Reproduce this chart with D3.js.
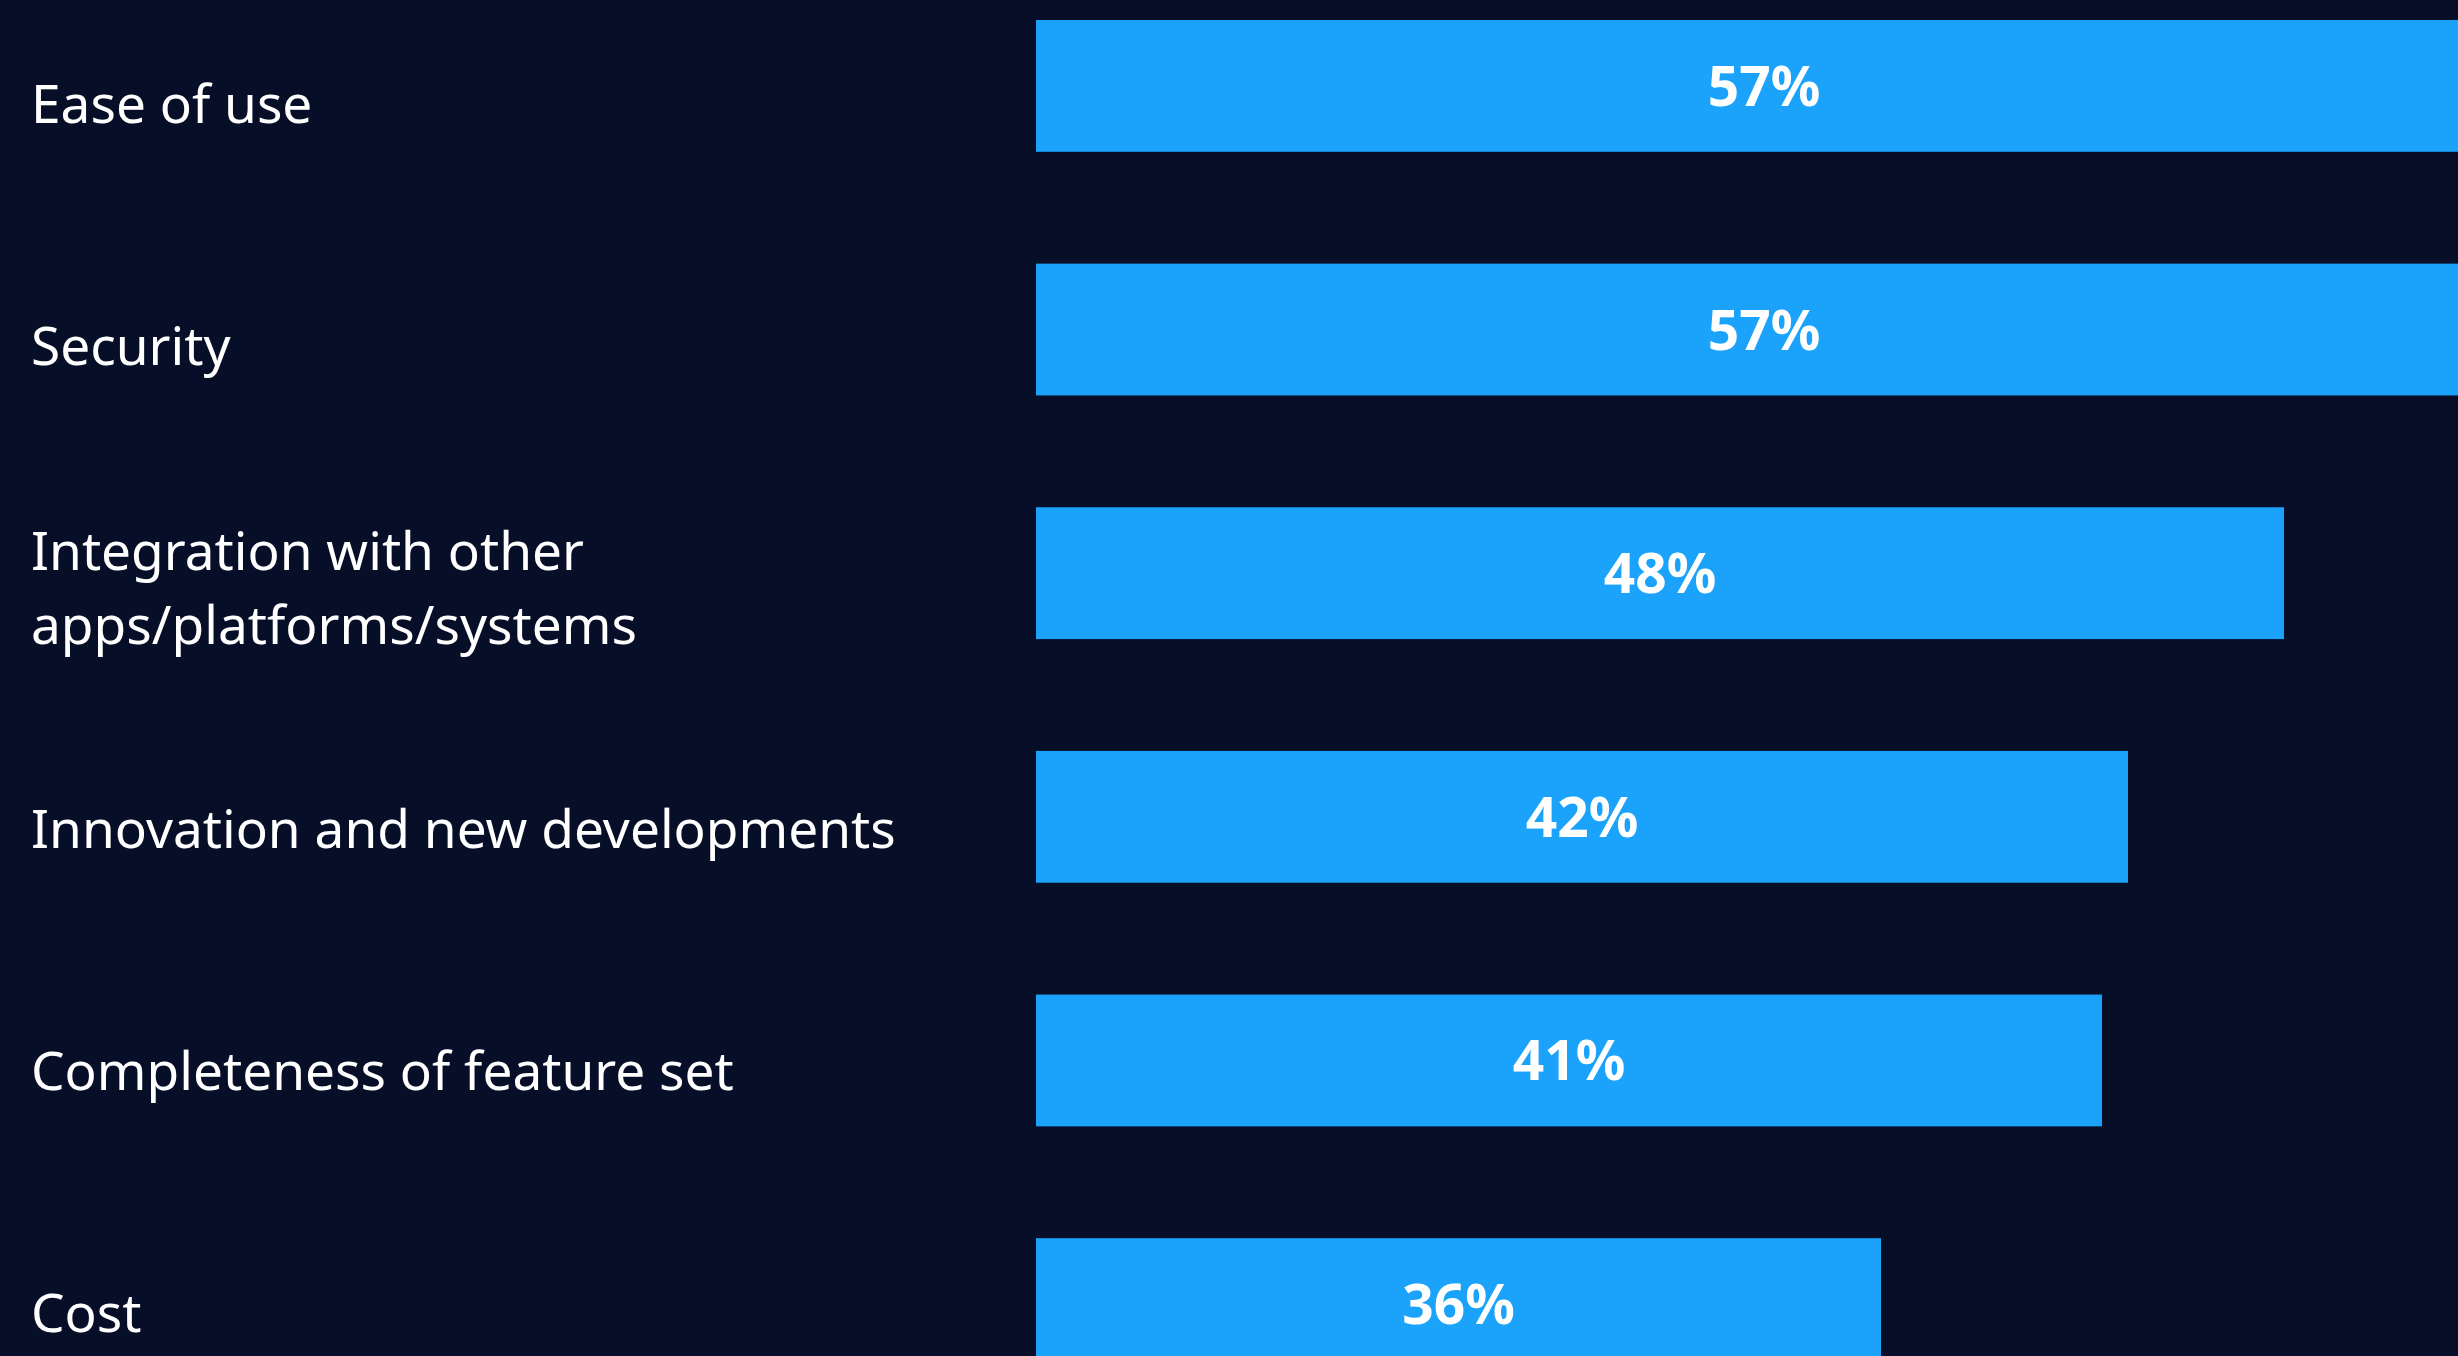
<!DOCTYPE html>
<html>
<head>
<meta charset="utf-8">
<script src="https://cdn.jsdelivr.net/npm/d3@7"></script>
<style>
  html, body { margin: 0; padding: 0; background: #060e28; overflow: hidden; }
</style>
</head>
<body>
<div id="chart"></div>
<script>
// data
const categories = [
  "Ease of use",
  "Security",
  "Integration with other apps/platforms/systems",
  "Innovation and new developments",
  "Completeness of feature set",
  "Cost"
];
const shares = [57, 57, 48, 42, 41, 36];          // printed labels
const barLengths = [56, 56, 48, 42, 41, 32.5];     // bar length as drawn

const colors = {
  bg: "#060e28",
  bar: "#1ba3fc",
  text: "#ffffff"
};

function chart() {
  const width = 2458;
  const height = 1356;

  const svg = d3.select("#chart").append("svg")
      .attr("width", width)
      .attr("height", height)
      .attr("viewBox", [0, 0, width, height]);

  svg.append("rect")
      .attr("width", width)
      .attr("height", height)
      .attr("fill", colors.bg);

  const x = d3.scaleLinear()
      .domain([0, 100])
      .range([1036, 1036 + 2600]);

  const y = d3.scaleBand()
      .domain(categories)
      .range([20, 1370])
      .paddingInner(0.459)
      .paddingOuter(0);

  // labels sit on their own, slightly different rhythm
  const yLabel = d3.scalePoint()
      .domain(categories)
      .range([104, 1313]);

  const rows = categories.map((c, i) => ({
    name: c, share: shares[i], len: barLengths[i]
  }));

  svg.append("g")
    .selectAll("rect")
    .data(rows)
    .join("rect")
      .attr("x", x(0))
      .attr("y", d => y(d.name))
      .attr("width", d => x(d.len) - x(0))
      .attr("height", y.bandwidth())
      .attr("fill", colors.bar);

  svg.append("g")
      .attr("font-family", "'Noto Sans', sans-serif")
      .attr("font-weight", 700)
      .attr("font-size", 55)
      .attr("fill", colors.text)
      .attr("text-anchor", "middle")
    .selectAll("text")
    .data(rows)
    .join("text")
      .attr("x", d => (x(0) + Math.min(x(d.len), width + 34)) / 2)
      .attr("y", d => y(d.name) + y.bandwidth() / 2 + 20)
      .text(d => d.share + "%");

  svg.append("g")
      .attr("font-family", "'Noto Sans', sans-serif")
      .attr("font-size", 53.2)
      .attr("fill", colors.text)
    .selectAll("text")
    .data(rows)
    .join("text")
      .each(function (d) {
        wrap(d3.select(this), d.name, 940, yLabel(d.name));
      });

  function wrap(text, str, maxW, cy) {
    const words = str.split(/\s+/);
    const lines = [];
    let line = [];
    const probe = text.append("tspan");
    for (const w of words) {
      line.push(w);
      probe.text(line.join(" "));
      if (probe.node().getComputedTextLength() > maxW && line.length > 1) {
        line.pop();
        lines.push(line.join(" "));
        line = [w];
      }
    }
    lines.push(line.join(" "));
    probe.remove();
    const lh = 74;
    const first = cy + 19 - (lines.length - 1) * lh / 2;
    lines.forEach((l, i) => {
      text.append("tspan")
          .attr("x", 31)
          .attr("y", first + i * lh)
          .text(l);
    });
  }
}

chart();
</script>
</body>
</html>
